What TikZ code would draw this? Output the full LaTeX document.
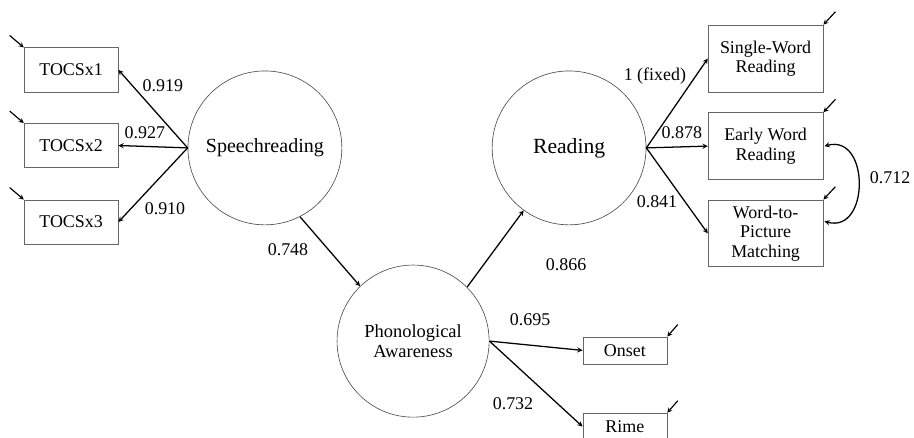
\documentclass[tikz,border=0pt]{standalone}
\usepackage{fontspec}
\setmainfont{Liberation Serif}
\newfontfamily\tnr{Liberation Serif}
\usepackage{tikz}
\tikzset{>=stealth}
\tikzset{
  every node/.style={font=\tnr},
  latent/.style={circle,draw=black!70,line width=0.6pt,inner sep=0pt,align=center},
  obs/.style={rectangle,draw=black!60,line width=0.7pt,inner sep=0pt,align=center,
    font=\tnr\fontsize{17}{18.5}\selectfont},
  coef/.style={font=\tnr\fontsize{17}{19}\selectfont},
  path/.style={->,line width=1.2pt},
  err/.style={<-,line width=1.1pt}
}

\begin{document}
\begin{tikzpicture}
          \useasboundingbox (0,0) rectangle (30.467,-14.567);
          % latent variables
          \node[latent,minimum size=5.13cm,font=\tnr\fontsize{19}{21}\selectfont] (sp) at (8.83,-4.93) {Speechreading};
          \node[latent,minimum size=5.13cm,font=\tnr\fontsize{20.5}{22}\selectfont] (rd) at (18.97,-4.93) {Reading};
          \node[latent,minimum size=5.07cm,font=\tnr\fontsize{17.5}{19.5}\selectfont] (pa) at (13.77,-11.37) {Phonological\\Awareness};
          % indicators
          \begin{scope}[minimum width=3.13cm,minimum height=1.47cm]
            \node[obs] (t1) at (2.37,-2.33) {TOCSx1};
            \node[obs] (t2) at (2.37,-4.85) {TOCSx2};
            \node[obs] (t3) at (2.37,-7.4) {TOCSx3};
          \end{scope}
          \begin{scope}[minimum width=3.83cm,minimum height=2.23cm]
            \node[obs] (swr) at (25.52,-1.95) {Single-Word\\Reading};
            \node[obs] (ewr) at (25.52,-4.87) {Early Word\\Reading};
            \node[obs] (wpm) at (25.52,-7.78) {Word-to-\\Picture\\Matching};
          \end{scope}
          \begin{scope}[minimum width=2.8cm,minimum height=0.9cm]
            \node[obs] (ons) at (20.83,-11.68) {Onset};
            \node[obs] (rim) at (20.83,-14.22) {Rime};
          \end{scope}
          % loadings
          \begin{scope}[path]
            \draw (sp.west) -- (t1.east);
            \draw (sp.west) -- (t2.east);
            \draw (sp.west) -- (t3.east);
            \draw (rd.east) -- (swr.west);
            \draw (rd.east) -- (ewr.west);
            \draw (rd.east) -- (wpm.west);
            \draw (pa.east) -- (ons.west);
            \draw (pa.east) -- (rim.west);
            \draw (sp.-63) -- (pa.134);
            \draw (pa.45) -- (rd.-126);
          \end{scope}
          % error terms
          \begin{scope}[err]
            \draw (t1.north west) -- +(-0.47,0.4);
            \draw (t2.north west) -- +(-0.47,0.4);
            \draw (t3.north west) -- +(-0.47,0.4);
            \draw (swr.north east) -- +(0.4,0.43);
            \draw (ewr.north east) -- +(0.4,0.43);
            \draw (wpm.north east) -- +(0.4,0.43);
            \draw (ons.north east) -- +(0.35,0.4);
            \draw (rim.north east) -- +(0.35,0.4);
          \end{scope}
          \draw[<->,line width=1.2pt] ([xshift=1pt]ewr.east) to[out=15,in=-15,looseness=1.6] ([xshift=1pt,yshift=0.4cm]wpm.east);
          % coefficients
          \node[coef] (c1) at (5.43,-2.87) {0.919};
          \node[coef] (c2) at (4.83,-4.43) {0.927};
          \node[coef] (c3) at (5.5,-6.97) {0.910};
          \node[coef] (c4) at (9.6,-8.33) {0.748};
          \node[coef] (c5) at (18.87,-8.83) {0.866};
          \node[coef] (c6) at (21.83,-2.53) {1 (fixed)};
          \node[coef] (c7) at (22.73,-4.43) {0.878};
          \node[coef] (c8) at (21.9,-6.73) {0.841};
          \node[coef] (c9) at (29.67,-5.93) {0.712};
          \node[coef] (c10) at (17.67,-10.67) {0.695};
          \node[coef] (c11) at (17.1,-13.47) {0.732};
        \end{tikzpicture}
\end{document}
